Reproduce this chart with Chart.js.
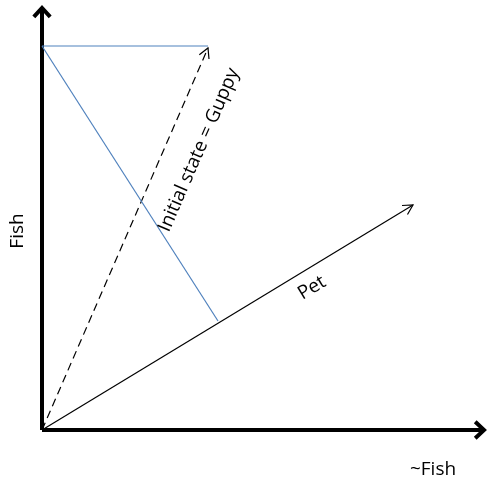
<!DOCTYPE html>
<html lang="en">
<head>
  <meta charset="UTF-8" />
  <title>Fish vs ~Fish</title>
  <script src="https://cdn.jsdelivr.net/npm/chart.js"></script>
  <style>
    body {
      margin: 0;
      background: #fff;
    }
    .wrap {
      width: 487px;
      height: 480px;
    }
  </style>
</head>
<body>
  <div class="wrap"><canvas id="chart"></canvas></div>

  <script>
    // vector end points, origin at (0,0)
    const xAxisPts = [{ x: 0, y: 0 }, { x: 442, y: 0 }];
    const yAxisPts = [{ x: 0, y: 0 }, { x: 0, y: 422 }];
    const guppyPts = [{ x: 0, y: 0 }, { x: 166, y: 382 }];
    const petPts = [{ x: 0, y: 0 }, { x: 371, y: 225 }];
    const topLinePts = [{ x: 0, y: 384 }, { x: 166, y: 384 }];
    const projPts = [{ x: 0, y: 384 }, { x: 176, y: 109 }];

    // labels: text, anchor point in data units, rotation follows a vector
    const labels = [
      { text: 'Initial state = Guppy', at: { x: 157, y: 280 }, along: guppyPts },
      { text: 'Pet', at: { x: 270, y: 142 }, along: petPts },
      { text: '~Fish', at: { x: 391, y: -40 }, along: null },
      { text: 'Fish', at: { x: -24, y: 199 }, along: yAxisPts }
    ];

    const blue = '#4f81bd';

    const arrowPlugin = {
      id: 'arrows',
      afterDatasetsDraw(chart) {
        const c = chart.ctx;
        chart.data.datasets.forEach((ds, i) => {
          if (!ds.arrow) return;
          const pts = chart.getDatasetMeta(i).data;
          const a = pts[pts.length - 2], b = pts[pts.length - 1];
          const ang = Math.atan2(b.y - a.y, b.x - a.x);
          const len = ds.arrow.len, spread = ds.arrow.spread;
          c.save();
          c.strokeStyle = ds.borderColor;
          c.lineWidth = ds.arrow.width;
          c.setLineDash([]);
          c.lineCap = 'butt';
          c.lineJoin = 'miter';
          c.beginPath();
          c.moveTo(b.x - len * Math.cos(ang - spread), b.y - len * Math.sin(ang - spread));
          c.lineTo(b.x, b.y);
          c.lineTo(b.x - len * Math.cos(ang + spread), b.y - len * Math.sin(ang + spread));
          c.stroke();
          c.restore();
        });
      },
      afterDraw(chart) {
        const c = chart.ctx;
        const xs = chart.scales.x, ys = chart.scales.y;
        c.save();
        c.fillStyle = '#000';
        c.font = '19px "Open Sans", sans-serif';
        c.textAlign = 'center';
        c.textBaseline = 'middle';
        labels.forEach(l => {
          let ang = 0;
          if (l.along) {
            const p0 = l.along[0], p1 = l.along[l.along.length - 1];
            ang = Math.atan2(ys.getPixelForValue(p1.y) - ys.getPixelForValue(p0.y),
                             xs.getPixelForValue(p1.x) - xs.getPixelForValue(p0.x));
          }
          c.save();
          c.translate(xs.getPixelForValue(l.at.x), ys.getPixelForValue(l.at.y));
          c.rotate(ang);
          c.fillText(l.text, 0, 0);
          c.restore();
        });
        c.restore();
      }
    };

    const line = (data, color, width, extra) => Object.assign({
      data, borderColor: color, borderWidth: width, showLine: true,
      pointRadius: 0, clip: false, fill: false
    }, extra || {});

    new Chart(document.getElementById('chart'), {
      type: 'scatter',
      data: {
        datasets: [
          line(topLinePts, blue, 1.2),
          line(projPts, blue, 1.2),
          line(guppyPts, '#000', 1.2, { borderDash: [8, 5], arrow: { len: 11, spread: 0.5, width: 1.2 } }),
          line(petPts, '#000', 1.2, { arrow: { len: 11, spread: 0.5, width: 1.2 } }),
          line(xAxisPts, '#000', 4, { arrow: { len: 12, spread: 0.75, width: 4 } }),
          line(yAxisPts, '#000', 4, { arrow: { len: 12, spread: 0.75, width: 4 } })
        ]
      },
      options: {
        animation: false,
        responsive: true,
        maintainAspectRatio: false,
        layout: { padding: { left: 42, top: 8, right: 3, bottom: 50 } },
        plugins: { legend: { display: false }, tooltip: { enabled: false } },
        scales: {
          x: { type: 'linear', min: 0, max: 442, display: false },
          y: { type: 'linear', min: 0, max: 422, display: false }
        }
      },
      plugins: [arrowPlugin]
    });
  </script>
</body>
</html>
